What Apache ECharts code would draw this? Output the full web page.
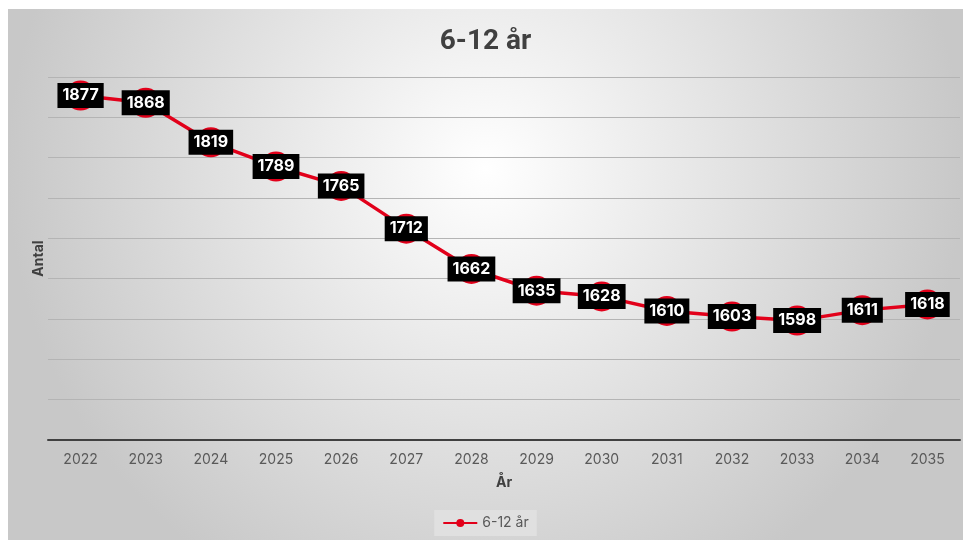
<!DOCTYPE html>
<html><head><meta charset="utf-8">
<script src="https://cdn.jsdelivr.net/npm/echarts@6/dist/echarts.min.js"></script>
<style>
html,body{margin:0;padding:0;background:#fff;width:963px;height:541px;overflow:hidden}
#c{position:absolute;left:8px;top:9px;width:955px;height:531px}
</style></head><body><div id="c"></div>
<script>
const categories = ['2022','2023','2024','2025','2026','2027','2028','2029','2030','2031','2032','2033','2034','2035'];
const values = [1877,1868,1819,1789,1765,1712,1662,1635,1628,1610,1603,1598,1611,1618];
const seriesName = '6-12 år';
const titleText = '6-12 år';
const xName = 'År';
const yName = 'Antal';
const yMin = 1450, yMax = 1900, yStep = 50;

const chart = echarts.init(document.getElementById('c'));
chart.setOption({
  backgroundColor: {
    type: 'radial', x: 0.5, y: 0.3, r: 0.9,
    colorStops: [{offset: 0, color: '#ffffff'}, {offset: 1, color: '#c8c8c8'}]
  },
  title: {
    text: titleText, left: 'center', top: 14,
    textStyle: {fontFamily: 'Roboto', fontWeight: 'bold', fontSize: 28, color: '#404040'}
  },
  grid: {left: 40, right: 3, top: 68, bottom: 100, containLabel: false},
  legend: {
    bottom: 4, left: 'center',
    backgroundColor: 'rgba(225,225,225,0.9)',
    padding: [6, 8],
    itemWidth: 34, itemHeight: 10, itemGap: 2,
    textStyle: {fontFamily: 'Inter', fontSize: 14, color: '#595959'},
    data: [seriesName]
  },
  xAxis: {
    type: 'category', data: categories, boundaryGap: true,
    name: xName, nameLocation: 'middle', nameGap: 36,
    nameTextStyle: {fontFamily: 'Inter', fontWeight: 'bold', fontSize: 14, color: '#404040'},
    axisLine: {lineStyle: {color: '#404040', width: 2}},
    axisTick: {show: false},
    axisLabel: {fontFamily: 'Inter', fontSize: 14, color: '#595959', margin: 13}
  },
  yAxis: {
    type: 'value', min: yMin, max: yMax, interval: yStep,
    name: yName, nameLocation: 'middle', nameGap: 2, nameRotate: 90,
    nameTextStyle: {fontFamily: 'Inter', fontWeight: 'bold', fontSize: 14, color: '#404040'},
    axisLine: {show: false}, axisTick: {show: false},
    axisLabel: {show: false},
    splitLine: {lineStyle: {color: '#b4b4b4', width: 1}}
  },
  series: [{
    name: seriesName, type: 'line', data: values,
    symbol: 'circle', symbolSize: 30,
    itemStyle: {color: '#e2001a'},
    lineStyle: {color: '#e2001a', width: 3.5},
    label: {
      show: true, position: 'inside',
      backgroundColor: '#000', color: '#fff',
      fontFamily: 'Inter', fontWeight: 'bold', fontSize: 16,
      padding: [5, 5, 4, 5]
    }
  }]
});
</script></body></html>
